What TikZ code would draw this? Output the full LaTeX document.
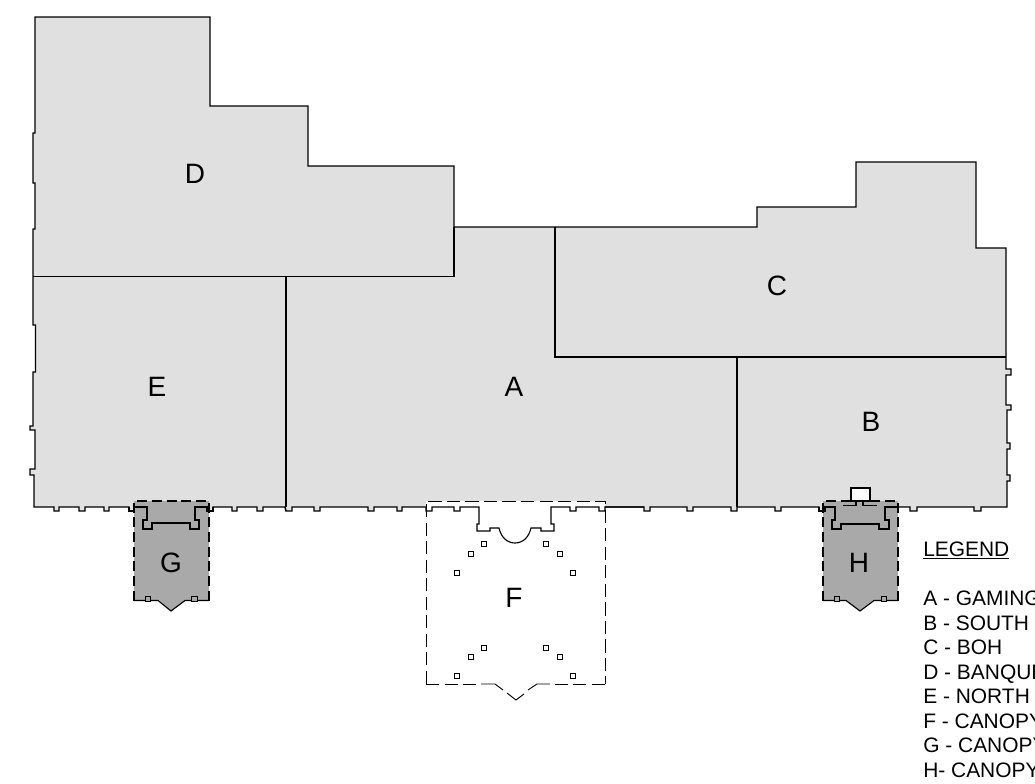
\documentclass[tikz,border=0pt]{standalone}
\usepackage{fontspec}
\setmainfont{Liberation Sans}
\definecolor{floor}{HTML}{E0E0E0}
\definecolor{canopy}{HTML}{A9A9A9}
\tikzset{
  wall/.style={draw=black,line width=1.1pt,line join=miter},
  thinwall/.style={draw=black,line width=0.85pt},
  dashf/.style={draw=black,line width=0.7pt,dash pattern=on 9.9pt off 4pt},
  solidf/.style={draw=black,line width=0.7pt},
  dashg/.style={draw=black,line width=1pt,dash pattern=on 7.5pt off 3.5pt},
  post/.style={draw=black,fill=white,line width=0.75pt},
  postdark/.style={draw=black,fill=canopy,line width=0.75pt},
  zone/.style={font=\fontsize{21pt}{21pt}\selectfont,inner sep=0pt},
  legendline/.style={font=\fontsize{15.7pt}{15.7pt}\selectfont,inner sep=0pt,anchor=base west}
}
\begin{document}
\begin{tikzpicture}[x=0.75pt,y=-0.75pt]
\useasboundingbox (0,0) rectangle (1035,783);
% building
\path[wall,fill=floor] (35,17) -- (210,17) -- (210,106) -- (308,106) -- (308,166) -- (454,166) -- (454,227) -- (757,227) -- (757,207) -- (856,207) -- (856,162) -- (976,162) -- (976,248) -- (1006,248)
 -- (1006,369) -- (1011,369) -- (1011,375) -- (1006,375) -- (1006,405) -- (1011,405) -- (1011,410) -- (1007,410)
 -- (1007,443) -- (1010,443) -- (1010,449) -- (1007,449) -- (1007,475) -- (1010,475) -- (1010,481) -- (1007,481) -- (1007,507)
 -- (981,507) -- (981,511) -- (974,511) -- (974,507) -- (917,507) -- (917,511) -- (910,511) -- (910,507)
 -- (825,507) -- (825,511) -- (819,511) -- (819,507) -- (781,507) -- (781,511) -- (775,511) -- (775,507)
 -- (737,507) -- (737,511) -- (731,511) -- (731,507) -- (693,507) -- (693,511) -- (687,511) -- (687,507)
 -- (650,507) -- (650,511) -- (644,511) -- (644,507) -- (402,507) -- (402,511) -- (397,511) -- (397,507)
 -- (374,507) -- (374,511) -- (368,511) -- (368,507) -- (320,507) -- (320,511) -- (314,511) -- (314,507)
 -- (292,507) -- (292,511) -- (286,511) -- (285,507) -- (263,507) -- (263,511) -- (257,511) -- (257,507)
 -- (237,507) -- (237,511) -- (232,511) -- (232,507) -- (213,507) -- (213,511) -- (207,511) -- (207,507)
 -- (134,507) -- (134,511) -- (129,511) -- (129,507) -- (109,507) -- (109,511) -- (104,511) -- (104,507)
 -- (85,507) -- (85,511) -- (79,511) -- (79,507) -- (59,507) -- (59,511) -- (54,511) -- (54,507)
 -- (34,507) -- (34,475) -- (30,475) -- (30,469) -- (35,469) -- (35,430) -- (30,430) -- (30,426) -- (33,426)
 -- (33,372) -- (35.5,372) -- (35.5,325) -- (33,325) -- (33,229) -- (35,229) -- (35,183) -- (33,183) -- (33,133) -- (35,133) -- cycle;
% partitions
\draw[wall] (33,276.5) -- (454,276.5) -- (454,227);
\draw[wall] (286,276.5) -- (286,507);
\draw[wall] (555,227) -- (555,357) -- (1006,357);
\draw[wall] (737,357) -- (737,507);
% canopy F
\fill[white] (426,501) rectangle (605,530);
\draw[thinwall] (426,507) -- (426,511) -- (432,511) -- (432,507) -- (454,507) -- (454,511) -- (460,511) -- (460,507) -- (479,507) -- (479,524) -- (477,524) -- (477,531) -- (490,531) -- (490,528) -- (499,528)
 .. controls (501,537) and (507,543) .. (515,543) .. controls (523,543) and (529,537) .. (531,528)
 -- (541,528) -- (541,531) -- (554,531) -- (554,524) -- (551,524) -- (551,507) -- (570,507) -- (570,511) -- (576,511) -- (576,507) -- (599,507) -- (599,511) -- (605,511) -- (605,507) -- (644,507);
\draw[dashf] (426,684) -- (426,501) -- (605,501) -- (605,684);
\draw[dashf] (426,684) -- (476,684);
\draw[dashf] (605,684) -- (555,684);
\draw[solidf] (481,684) -- (495,684) -- (503,690);
\draw[solidf] (507,693) -- (516,700) -- (524,694);
\draw[solidf] (528,690) -- (537,684) -- (550,684);
\foreach \px/\py in {484/544, 470.5/553.5, 457/572.5, 546/544, 559.5/553.5, 573/572.5, 484/647.5, 470.5/657, 457/676, 546/647.5, 559.5/657, 573/676}{\path[post] (\px-2.5,\py-2.5) rectangle (\px+2.5,\py+2.5);}
% canopy G
\path[fill=canopy] (134,501) rectangle (209,600.5);
\path[fill=canopy] (158,600) -- (171,611) -- (185,600) -- cycle;
\draw[dashg] (134,600.5) -- (134,501) -- (209,501) -- (209,600.5);
\draw[thinwall] (134,600.5) -- (158,600.5) -- (171,611) -- (185,600.5) -- (209,600.5);
\draw[thinwall] (129,507) -- (129,511) -- (134,511) -- (134,507) -- (147,507) -- (147,520) -- (143,520) -- (143,529) -- (152,529) -- (152,523) -- (190,523) -- (190,529) -- (199,529) -- (199,520) -- (195,520) -- (195,507) -- (207,507) -- (207,511) -- (213,511) -- (213,507);
\path[postdark] (145,596) rectangle (150.5,601);
\path[postdark] (191.5,596) rectangle (197,601);
% canopy H
\path[fill=canopy] (823,501) rectangle (898,600.5);
\path[fill=canopy] (846,600) -- (860,611) -- (874,600) -- cycle;
\fill[white] (851,488) rectangle (870,501);
\draw[thinwall] (843,505.5) -- (856,505.5) -- (856,501) -- (851,501) -- (851,488) -- (870,488) -- (870,501) -- (863,501) -- (863,505.5) -- (877,505.5);
\draw[dashg] (823,600.5) -- (823,501) -- (898,501) -- (898,600.5);
\draw[thinwall] (823,600.5) -- (846,600.5) -- (860,611) -- (874,600.5) -- (898,600.5);
\draw[thinwall] (819,507) -- (819,511) -- (825,511) -- (825,507) -- (835,507) -- (835,520) -- (832,520) -- (832,529) -- (841,529) -- (841,524) -- (879,524) -- (879,529) -- (889,529) -- (889,520) -- (885,520) -- (885,507) -- (898,507);
\path[postdark] (834,596) rectangle (839.5,601);
\path[postdark] (881,596) rectangle (886.5,601);
% labels
\node[zone] (D) at (195,174) {D};
\node[zone] (C) at (777,286) {C};
\node[zone] (A) at (514,387) {A};
\node[zone] (E) at (157,387) {E};
\node[zone] (B) at (871,422) {B};
\node[zone] (G) at (171,563) {G};
\node[zone] (H) at (859,563) {H};
\node[zone] (F) at (514,598) {F};
% legend
\node[legendline] (lg) at (923,556) {\underline{LEGEND}};
\node[legendline] (la) at (923,605) {A - GAMING};
\node[legendline] (lb) at (923,630) {B - SOUTH};
\node[legendline] (lc) at (923,654.5) {C - BOH};
\node[legendline] (ld) at (923,679) {D - BANQUET};
\node[legendline] (le) at (923,703.5) {E - NORTH};
\node[legendline] (lf) at (923,728) {F - CANOPY};
\node[legendline] (lg2) at (923,752.5) {G - CANOPY};
\node[legendline] (lh) at (923,777) {H- CANOPY};
\end{tikzpicture}
\end{document}
